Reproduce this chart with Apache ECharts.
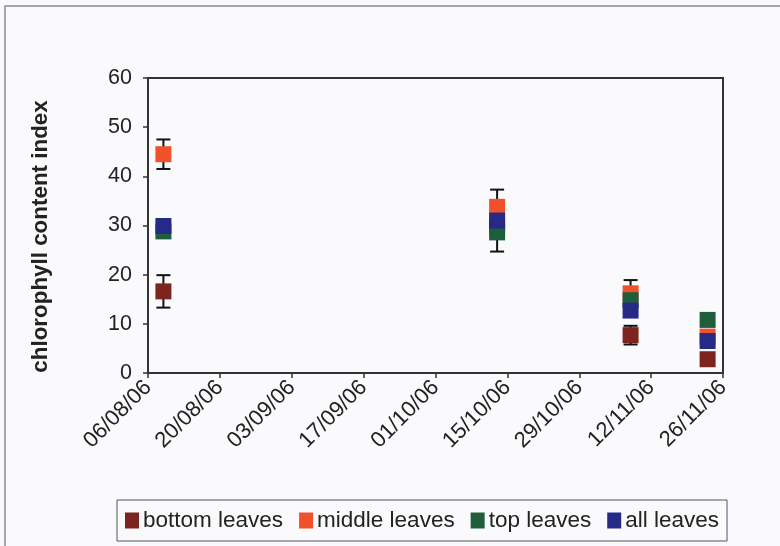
<!DOCTYPE html>
<html><head><meta charset="utf-8">
<script src="https://cdn.jsdelivr.net/npm/echarts@6/dist/echarts.min.js"></script>
<style>html,body{margin:0;padding:0;background:#fafafd;}#c{width:780px;height:546px;}</style>
</head><body><div id="c"></div>
<script>
// ---- data ----
const tickLabels = ['06/08/06','20/08/06','03/09/06','17/09/06','01/10/06','15/10/06','29/10/06','12/11/06','26/11/06'];
const sampleDates = ['09/08/06','13/10/06','08/11/06','23/11/06'];
const seriesNames = ['bottom leaves','middle leaves','top leaves','all leaves'];
const bottomLeaves = [16.6, 30.0, 7.7, 2.8];
const middleLeaves = [44.5, 33.8, 16.2, 7.4];
const topLeaves    = [28.8, 28.6, 14.8, 10.8];
const allLeaves    = [29.9, 31.0, 12.7, 6.5];
const bottomErr = [3.3, null, 1.9, null];
const middleErr = [3.0, null, 2.7, null];
const topErr    = [null, null, null, null];
const allErr    = [null, 6.3, null, null];

// ---- helpers ----
function dayOffset(s){
  const p = s.split('/');
  const d = Date.UTC(2000 + +p[2], +p[1]-1, +p[0]);
  const base = Date.UTC(2006, 7, 6);
  return Math.round((d - base) / 86400000);
}
const xs = sampleDates.map(dayOffset);
const colors = ['#7E2420','#F0502A','#1F5E3C','#262A86'];
const values = [bottomLeaves, middleLeaves, topLeaves, allLeaves];
const errs = [bottomErr, middleErr, topErr, allErr];
const FONT = 'Liberation Sans, Arial, sans-serif';

const errData = [];
errs.forEach((arr, si) => arr.forEach((e, i) => {
  if (e != null) errData.push([xs[i], values[si][i] - e, values[si][i] + e]);
}));

const series = [{
  type: 'custom',
  name: 'err',
  z: 1,
  silent: true,
  data: errData,
  renderItem: function(params, api){
    const x = api.value(0);
    const lo = api.coord([x, api.value(1)]);
    const hi = api.coord([x, api.value(2)]);
    const hw = 7;
    const st = {stroke: '#111', lineWidth: 2};
    return {type: 'group', children: [
      {type: 'line', shape: {x1: lo[0], y1: lo[1], x2: hi[0], y2: hi[1]}, style: st},
      {type: 'line', shape: {x1: lo[0]-hw, y1: lo[1], x2: lo[0]+hw, y2: lo[1]}, style: st},
      {type: 'line', shape: {x1: hi[0]-hw, y1: hi[1], x2: hi[0]+hw, y2: hi[1]}, style: st}
    ]};
  }
}];
seriesNames.forEach((n, si) => {
  series.push({
    type: 'scatter', name: n, z: 2 + si,
    symbol: 'rect', symbolSize: 16,
    itemStyle: {color: colors[si], opacity: 1},
    data: values[si].map((v, i) => [xs[i], v])
  });
});

const chart = echarts.init(document.getElementById('c'), null, {renderer: 'canvas'});
chart.setOption({
  animation: false,
  backgroundColor: '#fafafd',
  color: colors,
  graphic: [{type: 'rect', shape: {x: 5, y: 6, width: 820, height: 600},
             style: {fill: 'none', stroke: '#8a8a95', lineWidth: 1.5}, silent: true}],
  grid: {left: 148, right: 57, top: 78, bottom: 173, show: true, borderColor: '#333', borderWidth: 2, backgroundColor: 'transparent'},
  xAxis: {
    type: 'value', min: 0, max: 112, interval: 14,
    axisLine: {show: true, lineStyle: {color: '#333', width: 2}},
    axisTick: {show: true, length: 5, lineStyle: {color: '#333', width: 1.5}},
    splitLine: {show: false},
    axisLabel: {
      rotate: 45, margin: 11, fontSize: 22, color: '#222', fontFamily: FONT,
      formatter: v => tickLabels[Math.round(v / 14)] || ''
    }
  },
  yAxis: {
    type: 'value', min: 0, max: 60, interval: 10,
    name: 'chlorophyll content index', nameLocation: 'middle', nameGap: 96,
    nameTextStyle: {fontSize: 22.4, fontWeight: 'bold', color: '#222', fontFamily: FONT, padding: [0, 22, 0, 0]},
    axisLine: {show: true, lineStyle: {color: '#333', width: 2}},
    axisTick: {show: true, length: 5, lineStyle: {color: '#333', width: 1.5}},
    splitLine: {show: false},
    axisLabel: {fontSize: 21.5, margin: 16, color: '#222', fontFamily: FONT}
  },
  legend: {
    data: seriesNames,
    left: 117, top: 500,
    padding: [9, 8, 9, 8],
    borderColor: '#555', borderWidth: 1,
    itemWidth: 14, itemHeight: 16, itemGap: 16,
    icon: 'rect',
    textStyle: {fontSize: 22.5, color: '#222', fontFamily: FONT, padding: [0, 0, 0, -1]}
  },
  series: series
});
</script></body></html>
